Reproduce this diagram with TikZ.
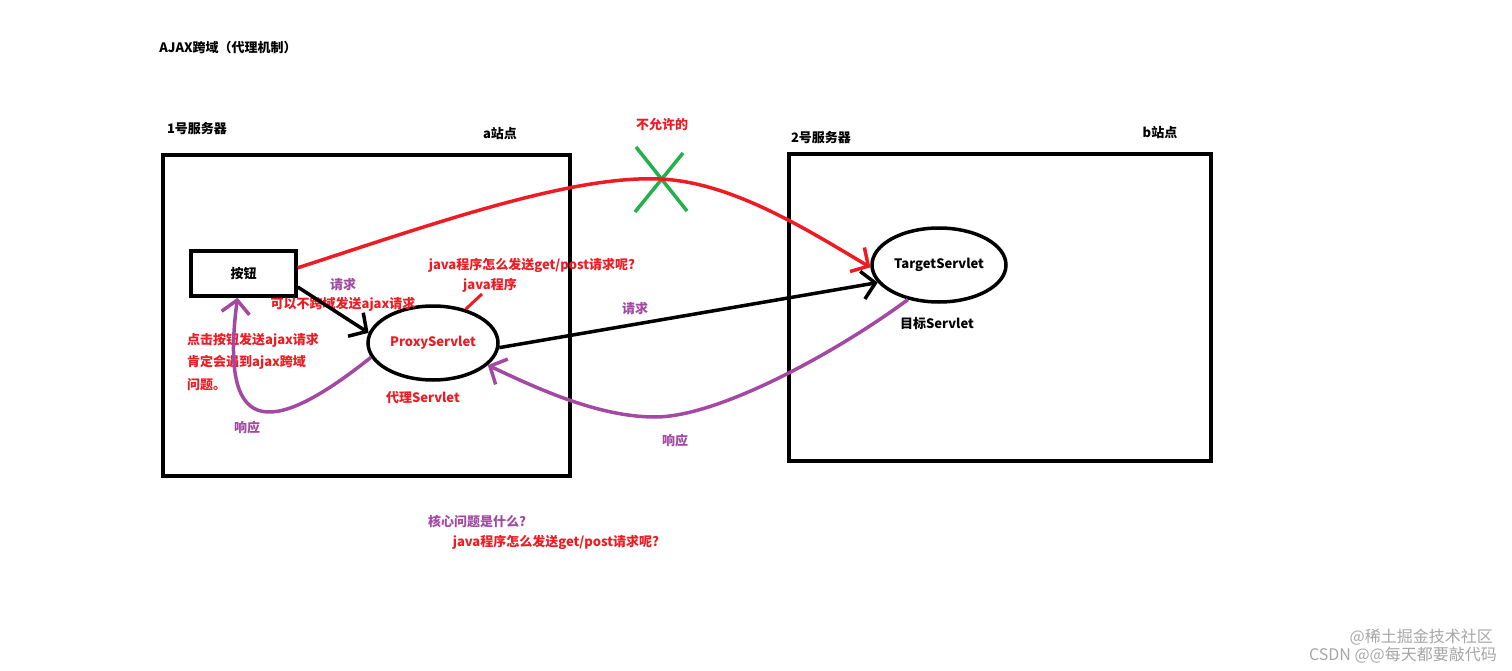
\documentclass[tikz,border=0pt]{standalone}
\usepackage{fontspec}
\setmainfont{Noto Sans CJK SC}
\usepackage{tikz}
\usetikzlibrary{arrows.meta,shapes.geometric}
\definecolor{paintred}{HTML}{ED1C24}
\definecolor{paintpurple}{HTML}{A349A4}
\definecolor{paintgreen}{HTML}{22B14C}

\begin{document}
\begin{tikzpicture}[x=1pt,y=-1pt,
  lbl/.style={font=\fontsize{13}{16}\selectfont\bfseries,inner sep=1pt},
  redlbl/.style={lbl,text=paintred},
  purplbl/.style={lbl,text=paintpurple},
  wm/.style={font=\fontsize{16}{18}\selectfont,text=black!35,inner sep=0pt},
  box/.style={line width=3.5pt},
  servlet/.style={ellipse,draw,line width=3.5pt,inner sep=0pt},
  arr/.style={line width=3.5pt,-{Straight Barb[length=13pt,width=28pt]}}]
\useasboundingbox (0,0) rectangle (1512,671);
\node[lbl] (title) at (228,48) {AJAX跨域（代理机制）};
\node[lbl] (srv1) at (197,129) {1号服务器};
\node[lbl] (sitea) at (500,134) {a站点};
\node[lbl] (srv2) at (821,138) {2号服务器};
\node[lbl] (siteb) at (1160,133) {b站点};
\draw[box] (163,155) rectangle (570,476);
\draw[box] (789,154) rectangle (1211,461);
\node[lbl,draw,line width=3.5pt,minimum width=105pt,minimum height=45pt] (btn) at (243.5,273.5) {按钮};
\node[servlet,minimum width=130pt,minimum height=74pt,text=paintred,font=\fontsize{13}{16}\selectfont\bfseries] (proxy) at (433,343) {ProxyServlet};
\node[servlet,minimum width=134pt,minimum height=74pt,font=\fontsize{13}{16}\selectfont\bfseries] (target) at (939,265) {TargetServlet};
\node[redlbl] (proxyname) at (423,398) {代理Servlet};
\node[lbl] (targetname) at (937,324) {目标Servlet};
\node[redlbl] (notallowed) at (662,125) {不允许的};
\draw[paintgreen,line width=3.5pt] (636,147) -- (687,211);
\draw[paintgreen,line width=3.5pt] (683,153) -- (635,212);
\node[purplbl] (req1) at (343,285) {请求};
\node[redlbl] (nocross) at (343,304) {可以不跨域发送ajax请求};
\node[redlbl] (howq) at (532,265) {java程序怎么发送get/post请求呢?};
\node[redlbl] (javanote) at (490,285) {java程序};
\node[redlbl,anchor=west,align=left,font=\fontsize{13}{22.5}\selectfont\bfseries] (clicknote) at (186,362) {点击按钮发送ajax请求\\肯定会遇到ajax跨域\\问题。};
\node[purplbl] (resp1) at (247,428) {响应};
\node[purplbl] (req2) at (635,309) {请求};
\node[purplbl] (resp2) at (675,441) {响应};
\node[purplbl] (coreq) at (477,521) {核心问题是什么?};
\node[redlbl] (coreans) at (556,542) {java程序怎么发送get/post请求呢?};
\node[wm,anchor=east] (wm1) at (1493,637) {@稀土掘金技术社区};
\node[wm,anchor=east] (wm2) at (1497,655) {CSDN @@每天都要敲代码};
\coordinate (crosstop) at (660,179);
\coordinate (respdip) at (655,417);
\coordinate (javatip) at (482,294);
\draw[arr,paintred] (btn.6) .. controls (430,225) and (570,175) .. (crosstop) .. controls (730,182) and (803,227) .. (target.182);
\draw[arr] (btn.-14) -- (proxy.171);
\draw[arr] (proxy.-4) -- (target.196);
\draw[paintred,line width=3pt] (proxy.46) -- (javatip);
\draw[arr,paintpurple] (target.228) .. controls (840,350) and (720,417) .. (respdip) .. controls (600,417) and (540,390) .. (proxy.-22);
\draw[arr,paintpurple] (proxy.193) .. controls (265,442) and (220,432) .. ([xshift=-6pt]btn.south);
\end{tikzpicture}
\end{document}
